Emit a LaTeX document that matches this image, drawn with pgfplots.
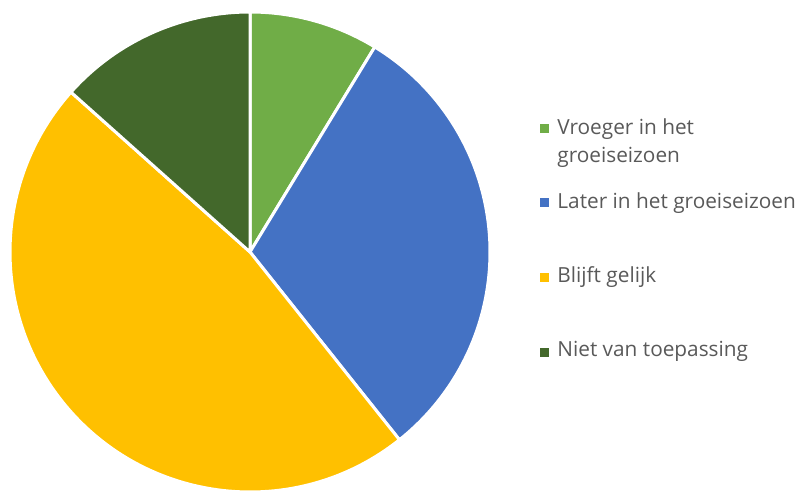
\documentclass[border=0pt]{standalone}
\usepackage{fontspec}
\setmainfont{Open Sans}
\usepackage{pgfplots}
\usepackage{pgfplotstable}
\pgfplotsset{compat=1.18}

\definecolor{c1}{HTML}{70AD47}
\definecolor{c2}{HTML}{4472C4}
\definecolor{c3}{HTML}{FFC000}
\definecolor{c4}{HTML}{43682B}
\definecolor{txt}{HTML}{595959}

\pgfdeclareplotmark{nothing}{}

% share in percent, slices clockwise from 12 o'clock
\pgfplotstableread{
x y start pct ci
250 252 90 8.7 1
250 252 58.68 30.6 2
250 252 -51.48 47.3 3
250 252 -221.76 13.4 4
}\piedata

\begin{document}
\begin{tikzpicture}
\begin{axis}[name=ax,
  scale only axis, width=399.5pt, height=245.5pt,
  xmin=0, xmax=799, ymin=0, ymax=491, y dir=reverse,
  hide axis, clip=false,
]
\addplot[scatter, only marks, mark=nothing,
  visualization depends on={\thisrow{start} \as \sa},
  visualization depends on={\thisrow{pct} \as \pc},
  visualization depends on={\thisrow{ci} \as \ci},
  scatter/@pre marker code/.code={%
    \pgfmathsetmacro\ea{\sa-3.6*\pc}%
    \pgfmathtruncatemacro\cn{\ci}%
    \fill[fill=c\cn, draw=white, line width=1.5pt, line join=round]
      (0,0) -- (\sa:120pt) arc[start angle=\sa, end angle=\ea, radius=120pt] -- cycle;
  },
  scatter/@post marker code/.code={},
] table {\piedata};

\addplot[only marks, mark=square*, mark size=2pt, c1, mark options={draw=none}] coordinates {(544.5,128)};
\addplot[only marks, mark=square*, mark size=2pt, c2, mark options={draw=none}] coordinates {(544.5,202.5)};
\addplot[only marks, mark=square*, mark size=2pt, c3, mark options={draw=none}] coordinates {(544.5,277.5)};
\addplot[only marks, mark=square*, mark size=2pt, c4, mark options={draw=none}] coordinates {(544.5,352)};

\begin{scope}[every node/.style={anchor=base west, inner sep=0pt, text=txt, font=\fontsize{10.4}{12}\selectfont}]
\node at (axis cs:557,135) {Vroeger in het};
\node at (axis cs:557,163) {groeiseizoen};
\node at (axis cs:557,209) {Later in het groeiseizoen};
\node at (axis cs:557,283) {Blijft gelijk};
\node at (axis cs:557,357) {Niet van toepassing};
\end{scope}
\end{axis}
\pgfresetboundingbox
\path (ax.south west) rectangle (ax.north east);
\end{tikzpicture}
\end{document}
